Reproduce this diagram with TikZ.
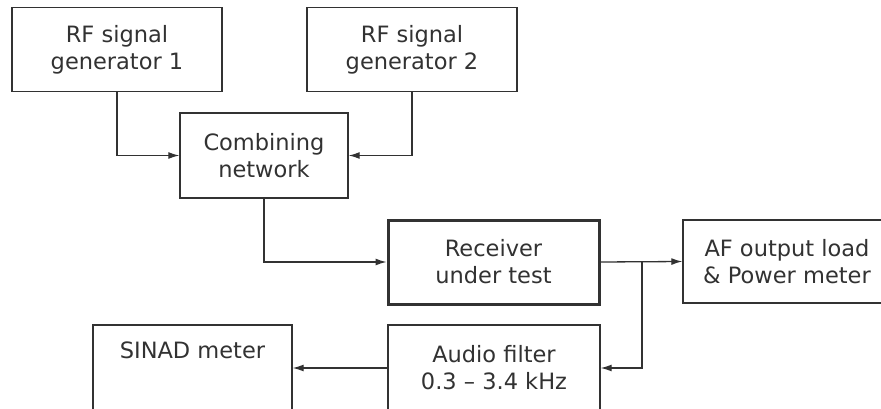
\documentclass[tikz,border=0pt]{standalone}
\usepackage{fontspec}
\setmainfont{DejaVu Sans}
\usetikzlibrary{arrows.meta, positioning}
\definecolor{dark}{RGB}{50,50,50}

\begin{document}
\begin{tikzpicture}[
    x=1pt, y=-1pt,
    block/.style={rectangle, draw=dark, line width=1.4pt, align=center, text=dark, font=\fontsize{22.5}{27}\selectfont, inner sep=0pt},
    dut/.style={block, line width=3pt},
    arr/.style={-{Latex[length=11pt, width=7pt]}, line width=1.3pt, dark},
]
\clip (0,0) rectangle (881,409);
\fill[white] (0,0) rectangle (881,409);

% Generators and combiner
\node[block, minimum width=210pt, minimum height=84pt] (gen1) at (117,49.5) {RF signal\\generator 1};
\node[block, minimum width=210pt, minimum height=84pt] (gen2) at (412,49.5) {RF signal\\generator 2};
\node[block, minimum width=168pt, minimum height=85pt] (comb) at (264,155.5) {Combining\\network};

% Receiver and load
\node[dut, minimum width=211pt, minimum height=84pt] (rx) at (493.5,262) {Receiver\\under test};
\node[block, minimum width=208pt, minimum height=83pt] (afload) at (787,261.5) {AF output load\\\& Power meter};

% Filter and meter
\node[block, minimum width=212pt, minimum height=86pt] (filter) at (494,368) {Audio filter\\0.3 -- 3.4 kHz};
\node[block, minimum width=199pt, minimum height=86pt] (sinad) at (192.5,368) {SINAD meter\\\strut};

% Arrows
\draw[arr] (gen1.south) |- (comb.west);
\draw[arr] (gen2.south) |- (comb.east);
\draw[arr] (comb.south) |- (rx.west);
\draw[arr] (rx.east) -- (afload.west);
\coordinate (tap) at (642,262);
\draw[arr] (tap) |- (filter.east);
\draw[arr] (filter.west) -- (sinad.east);

\end{tikzpicture}
\end{document}
